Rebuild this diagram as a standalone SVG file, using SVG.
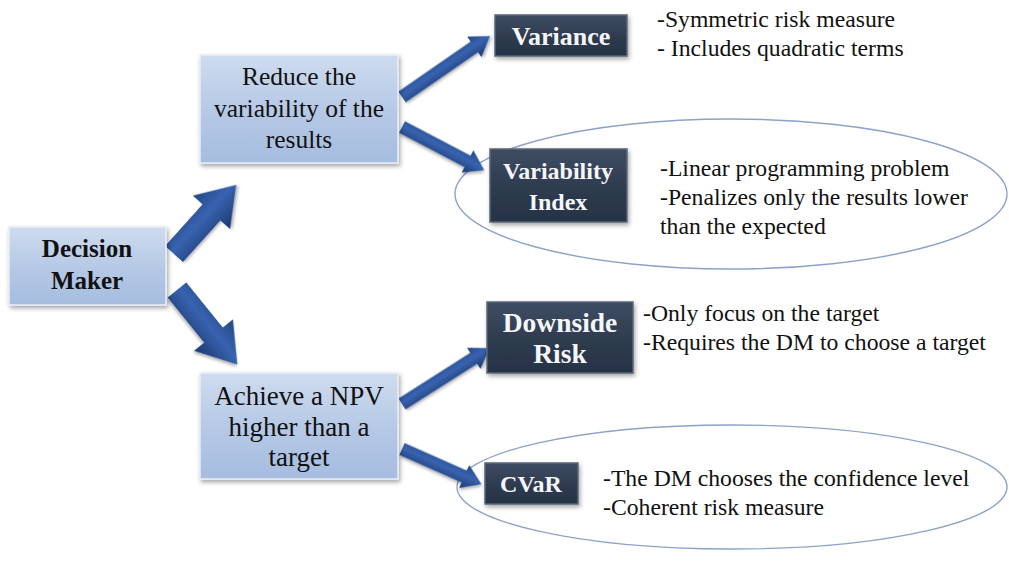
<svg xmlns="http://www.w3.org/2000/svg" width="1009" height="562" viewBox="0 0 1009 562">
  <style>
    .light-box { fill: url(#lightFill); stroke: #e8eef8; stroke-width: 1.5; filter: url(#shadow); }
    .dark-box { fill: url(#darkFill); stroke: #5a6678; stroke-width: 1.5; filter: url(#shadow); }
    .light-text { font-family: "Liberation Serif", "Times New Roman", serif; fill: #111; text-anchor: middle; }
    .dark-text { font-family: "Liberation Serif", "Times New Roman", serif; font-weight: bold; fill: #f4f6fa; text-anchor: middle; }
    .note { font-family: "Liberation Serif", "Times New Roman", serif; fill: #111; font-size: 23.7px; }
    .oval { fill: none; stroke: #8ea2c8; stroke-width: 1.4; }
    .arrow { fill: url(#arrowFill); filter: url(#arrowShadow); }
  </style>
  <defs>
    <linearGradient id="lightFill" x1="0" y1="0" x2="0" y2="1">
      <stop offset="0" stop-color="#cfdcef"/>
      <stop offset="0.5" stop-color="#b6c9e6"/>
      <stop offset="1" stop-color="#a6bde0"/>
    </linearGradient>
    <linearGradient id="darkFill" x1="0" y1="0" x2="0" y2="1">
      <stop offset="0" stop-color="#3f4d63"/>
      <stop offset="0.5" stop-color="#2f3c50"/>
      <stop offset="1" stop-color="#263244"/>
    </linearGradient>
    <linearGradient id="arrowFill" x1="0" y1="0" x2="0" y2="1">
      <stop offset="0" stop-color="#244783"/>
      <stop offset="0.45" stop-color="#3863b0"/>
      <stop offset="1" stop-color="#1c386f"/>
    </linearGradient>
    <filter id="shadow" x="-10%" y="-10%" width="125%" height="130%">
      <feDropShadow dx="1.5" dy="2.5" stdDeviation="2" flood-color="#000" flood-opacity="0.35"/>
    </filter>
    <filter id="arrowShadow" x="-20%" y="-20%" width="140%" height="140%">
      <feDropShadow dx="1" dy="2" stdDeviation="1.5" flood-color="#000" flood-opacity="0.3"/>
    </filter>
  </defs>

  <rect width="1009" height="562" fill="#ffffff"/>

  <!-- grouping ovals around the two option families -->
  <g id="ovals">
    <ellipse class="oval" cx="731" cy="194" rx="276" ry="75"/>
    <ellipse class="oval" cx="732" cy="487" rx="275" ry="62"/>
  </g>

  <!-- block arrows (shaft along local x axis, tip at x = length) -->
  <g id="connectors">
    <path class="arrow" transform="translate(174,254) rotate(-48)" d="M0,-12 L56,-12 L56,-25 L93,0 L56,25 L56,12 L0,12 Z"/>
    <path class="arrow" transform="translate(177,290) rotate(51)" d="M0,-12 L58,-12 L58,-25 L96,0 L58,25 L58,12 L0,12 Z"/>
    <path class="arrow" transform="translate(402,97) rotate(-34.7)" d="M0,-6.5 L88,-6.5 L88,-12.5 L107,0 L88,12.5 L88,6.5 L0,6.5 Z"/>
    <path class="arrow" transform="translate(402,127) rotate(27.7)" d="M0,-6.5 L74,-6.5 L74,-12.5 L93,0 L74,12.5 L74,6.5 L0,6.5 Z"/>
    <path class="arrow" transform="translate(402,404) rotate(-32.5)" d="M0,-6.5 L85,-6.5 L85,-12.5 L104,0 L85,12.5 L85,6.5 L0,6.5 Z"/>
    <path class="arrow" transform="translate(402,449) rotate(23.9)" d="M0,-6.5 L68,-6.5 L68,-12.5 L87,0 L68,12.5 L68,6.5 L0,6.5 Z"/>
  </g>

  <g id="decision-maker">
    <rect class="light-box" x="9" y="227" width="157" height="78"/>
    <text class="light-text" font-size="25" font-weight="bold" x="87" y="257">Decision</text>
    <text class="light-text" font-size="25" font-weight="bold" x="87" y="289">Maker</text>
  </g>

  <g id="reduce-variability">
    <rect class="light-box" x="200" y="55" width="198" height="108"/>
    <text class="light-text" font-size="25.5" x="299" y="85">Reduce the</text>
    <text class="light-text" font-size="25.5" x="299" y="117">variability of the</text>
    <text class="light-text" font-size="25.5" x="299" y="148">results</text>
  </g>

  <g id="achieve-npv">
    <rect class="light-box" x="200" y="373" width="198" height="106"/>
    <text class="light-text" font-size="27" x="299" y="405">Achieve a NPV</text>
    <text class="light-text" font-size="27" x="299" y="436">higher than a</text>
    <text class="light-text" font-size="27" x="299" y="466">target</text>
  </g>

  <g id="variance">
    <rect class="dark-box" x="495" y="15" width="132" height="41"/>
    <text class="dark-text" font-size="26" x="561" y="45">Variance</text>
    <text class="note" x="657" y="27">-Symmetric risk measure</text>
    <text class="note" x="657" y="56">- Includes quadratic terms</text>
  </g>

  <g id="variability-index">
    <rect class="dark-box" x="490" y="149" width="137" height="73"/>
    <text class="dark-text" font-size="24" x="558" y="179">Variability</text>
    <text class="dark-text" font-size="24" x="558" y="210">Index</text>
    <text class="note" x="660" y="176">-Linear programming problem</text>
    <text class="note" x="660" y="205">-Penalizes only the results lower</text>
    <text class="note" x="660" y="234">than the expected</text>
  </g>

  <g id="downside-risk">
    <rect class="dark-box" x="487" y="302" width="146" height="71"/>
    <text class="dark-text" font-size="27.5" x="560" y="332">Downside</text>
    <text class="dark-text" font-size="27.5" x="560" y="363">Risk</text>
    <text class="note" x="643" y="321">-Only focus on the target</text>
    <text class="note" x="643" y="350">-Requires the DM to choose a target</text>
  </g>

  <g id="cvar">
    <rect class="dark-box" x="485" y="463" width="93" height="41"/>
    <text class="dark-text" font-size="24" x="531" y="492">CVaR</text>
    <text class="note" x="603" y="486">-The DM chooses the confidence level</text>
    <text class="note" x="603" y="515">-Coherent risk measure</text>
  </g>
</svg>
